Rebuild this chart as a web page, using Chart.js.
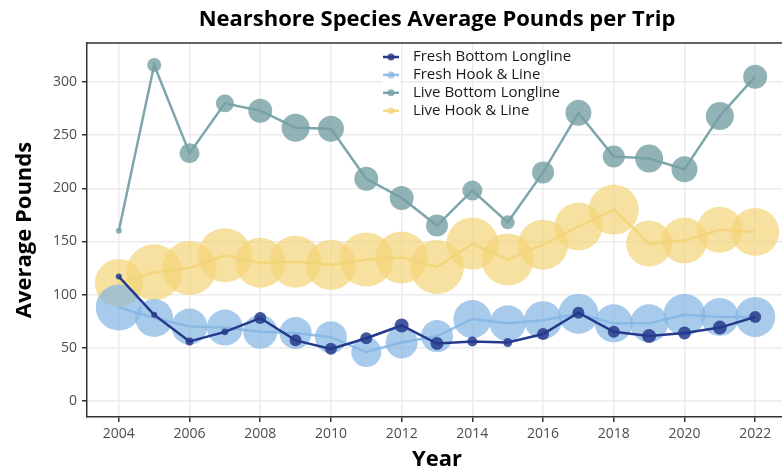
<!DOCTYPE html>
<html><head><meta charset="utf-8">
<script src="https://cdn.jsdelivr.net/npm/chart.js@4"></script>
<style>html,body{margin:0;padding:0;overflow:hidden;background:#fff}#wrap{width:790px;height:473px}</style>
</head><body><div id="wrap"><canvas id="c" width="790" height="473"></canvas></div>
<script>
// ---- data ----
const years = [2004,2005,2006,2007,2008,2009,2010,2011,2012,2013,2014,2015,2016,2017,2018,2019,2020,2021,2022];
const seriesNames = ['Fresh Bottom Longline','Fresh Hook & Line','Live Bottom Longline','Live Hook & Line'];
const freshBottomLbs = [117, 81, 56, 65, 78, 57, 49, 59, 71, 54, 56, 55, 63, 83, 65, 61, 64, 69, 79];
const freshHookLbs   = [ 88, 78, 70, 69, 65, 64, 60, 46, 55, 61, 77, 73, 76, 82, 73, 73, 81, 79, 79];
const liveBottomLbs  = [160,316,233,280,273,257,256,209,191,165,198,168,215,271,230,228,218,268,305];
const liveHookLbs    = [111,121,125,137,130,131,128,133,135,126,148,133,147,164,180,148,151,161,159];
// number of trips (bubble size)
const freshBottomTrips = [9, 9, 16, 12, 36, 36, 36, 36, 49, 42, 25, 20, 36, 36, 36, 49, 42, 49, 36];
const freshHookTrips   = [529,361,324,324,289,256,256,225,256,256,361,324,361,400,361,361,441,361,400];
const liveBottomTrips  = [9, 49, 100, 81, 144, 196, 169, 144, 144, 121, 100, 49, 121, 169, 121, 196, 169, 196, 144];
const liveHookTrips    = [576,784,729,729,625,676,625,729,676,729,676,676,625,576,625,529,529,529,576];
const xTickLabels = [2004,2006,2008,2010,2012,2014,2016,2018,2020,2022];
const yTickLabels = [0,50,100,150,200,250,300];

const F = '"Open Sans", "Noto Sans", sans-serif';
const colors = {
  fb: {line:'rgb(38,58,140)', pt:'rgba(38,58,140,0.85)'},
  fh: {line:'rgba(133,181,226,0.85)', pt:'rgba(133,181,226,0.7)'},
  lb: {line:'rgb(126,167,171)', pt:'rgba(118,160,164,0.8)'},
  lh: {line:'rgba(243,212,120,0.9)', pt:'rgba(243,212,120,0.7)'}
};
const pts = (vals) => years.map((y,i)=>({x:y, y:vals[i]}));
const rad = (trips) => trips.map(n=>Math.sqrt(n));

function ds(label, vals, trips, c, order){
  return {label, data:pts(vals), borderColor:c.line, borderWidth:2.5, backgroundColor:c.pt,
    pointBackgroundColor:c.pt, pointBorderWidth:0, pointRadius:rad(trips), pointHoverRadius:rad(trips),
    tension:0, fill:false, order, clip:false};
}

const legendKeys = [
  {name:seriesNames[0], c:colors.fb},
  {name:seriesNames[1], c:colors.fh},
  {name:seriesNames[2], c:colors.lb},
  {name:seriesNames[3], c:colors.lh}
];

const decor = {
  id:'decor',
  afterDatasetsDraw(chart){
    const ctx = chart.ctx, a = chart.chartArea;
    ctx.save();
    // top border
    ctx.strokeStyle = '#333'; ctx.lineWidth = 1.5;
    ctx.beginPath(); ctx.moveTo(a.left, a.top); ctx.lineTo(a.right, a.top); ctx.stroke();
    // legend
    const x0 = 382, y0 = 57, dy = 17.9;
    legendKeys.forEach((k,i)=>{
      const y = y0 + i*dy;
      ctx.fillStyle = '#fff';
      ctx.fillRect(x0, y - dy/2, 18, dy);
      ctx.strokeStyle = k.c.line; ctx.lineWidth = 2.5;
      ctx.beginPath(); ctx.moveTo(x0+1, y); ctx.lineTo(x0+17, y); ctx.stroke();
      ctx.fillStyle = k.c.pt;
      ctx.beginPath(); ctx.arc(x0+9, y, 3.5, 0, Math.PI*2); ctx.fill();
      ctx.fillStyle = '#1a1a1a'; ctx.font = '15px ' + F; ctx.textBaseline = 'middle'; ctx.textAlign = 'left';
      ctx.fillText(k.name, x0+31, y);
    });
    // title
    ctx.fillStyle = '#000'; ctx.font = 'bold 22px ' + F; ctx.textAlign = 'center'; ctx.textBaseline = 'alphabetic';
    ctx.fillText('Nearshore Species Average Pounds per Trip', 437, 26);
    ctx.restore();
  }
};

new Chart(document.getElementById('c'), {
  type:'line',
  data:{datasets:[
    ds(seriesNames[3], liveHookLbs, liveHookTrips, colors.lh, 4),
    ds(seriesNames[1], freshHookLbs, freshHookTrips, colors.fh, 3),
    ds(seriesNames[2], liveBottomLbs, liveBottomTrips, colors.lb, 2),
    ds(seriesNames[0], freshBottomLbs, freshBottomTrips, colors.fb, 1)
  ]},
  options:{
    responsive:false, animation:false, events:[],
    layout:{autoPadding:false, padding:{top:43, right:3, left:0, bottom:0}},
    plugins:{legend:{display:false}, tooltip:{enabled:false}, title:{display:false}},
    scales:{
      x:{type:'linear', min:2003.1, max:2022.9,
        afterBuildTicks: s => { s.ticks = xTickLabels.map(v=>({value:v})); },
        afterFit: s => { s.height = 56; s.paddingLeft = 0; s.paddingRight = 0; },
        grid:{color:'#ebebeb', lineWidth:1.5, tickColor:'#333', tickLength:5, tickWidth:1.5},
        border:{display:true, color:'#333', width:1.5},
        ticks:{color:'#4d4d4d', font:{family:F, size:14}, padding:4, maxRotation:0, autoSkip:false, callback:v=>String(v)},
        title:{display:true, text:'Year', color:'#000', font:{family:F, size:22, weight:'bold'}, padding:{top:0,bottom:0}}
      },
      y:{type:'linear', min:-15.1, max:336.7,
        afterBuildTicks: s => { s.ticks = yTickLabels.map(v=>({value:v})); },
        afterFit: s => { s.width = 87; s.paddingTop = 0; s.paddingBottom = 0; },
        grid:{color:'#ebebeb', lineWidth:1.5, tickColor:'#333', tickLength:5, tickWidth:1.5},
        border:{display:true, color:'#333', width:1.5},
        ticks:{color:'#4d4d4d', font:{family:F, size:14}, padding:5, autoSkip:false, callback:v=>String(v)},
        title:{display:true, text:'Average Pounds', color:'#000', font:{family:F, size:22, weight:'bold'}, padding:{top:12,bottom:0}}
      }
    }
  },
  plugins:[decor]
});
</script>
</body></html>
